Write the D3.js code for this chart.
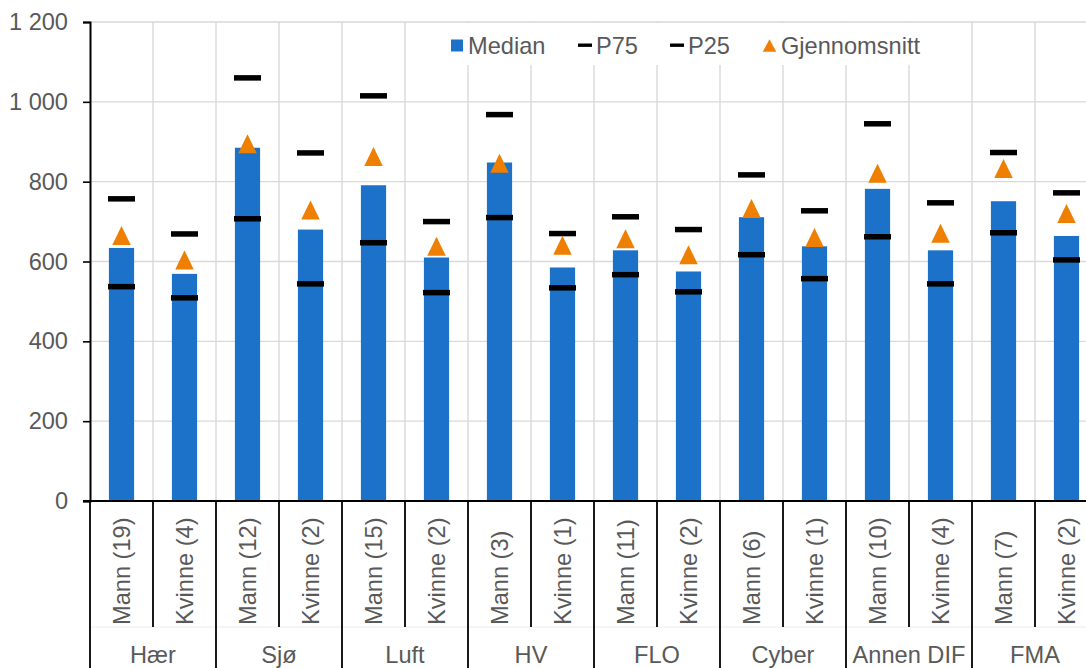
<!DOCTYPE html>
<html>
<head>
<meta charset="utf-8">
<script src="https://cdn.jsdelivr.net/npm/d3@7/dist/d3.min.js"></script>
<style>
  html, body { margin: 0; padding: 0; background: #fff; overflow: hidden; }
  svg { display: block; font-family: "Liberation Sans", Arial, sans-serif; }
</style>
</head>
<body>
<svg id="chart" width="1086" height="668"></svg>
<script>
// Branch groups and the two sub-categories shown under each
const groups = ["Hær", "Sjø", "Luft", "HV", "FLO", "Cyber", "Annen DIF", "FMA"];
const subLabels = [
  "Mann (19)", "Kvinne (4)", "Mann (12)", "Kvinne (2)", "Mann (15)", "Kvinne (2)",
  "Mann (3)", "Kvinne (1)", "Mann (11)", "Kvinne (2)", "Mann (6)", "Kvinne (1)",
  "Mann (10)", "Kvinne (4)", "Mann (7)", "Kvinne (2)"
];
const median = [634, 569, 885, 680, 791, 610, 848, 585, 628, 575, 711, 638, 782, 628, 751, 664];
const p75    = [757, 669, 1060, 872, 1015, 700, 968, 670, 712, 680, 817, 727, 945, 747, 873, 772];
const p25    = [537, 509, 707, 544, 647, 522, 710, 534, 567, 524, 617, 557, 662, 544, 672, 604];
const mean   = [665, 604, 895, 729, 863, 638, 846, 641, 657, 617, 733, 660, 821, 671, 833, 720];
const yTicks = [0, 200, 400, 600, 800, 1000, 1200];
const legendLabels = ["Median", "P75", "P25", "Gjennomsnitt"];

const BLUE = "#1b72c8", ORANGE = "#ef7f00", GRID = "#d9d9d9", TEXT = "#595959";
const FONT = 23.6;

const svg = d3.select("#chart");
const plotLeft = 90, plotRight = 1098, plotTop = 22, plotBottom = 501;
const subBottom = 627, figBottom = 668;

const idx = d3.range(subLabels.length);
const x = d3.scaleBand().domain(idx).range([plotLeft, plotRight]).paddingInner(0).paddingOuter(0);
const y = d3.scaleLinear().domain([0, 1200]).range([plotBottom, plotTop]);
const bw = x.bandwidth();
const cx = i => x(i) + bw / 2;

// Horizontal gridlines
svg.append("g").selectAll("line").data(yTicks.filter(d => d > 0)).join("line")
  .attr("x1", plotLeft).attr("x2", plotRight)
  .attr("y1", d => y(d)).attr("y2", d => y(d))
  .attr("stroke", GRID).attr("stroke-width", 1.4);

// Vertical gridlines at every band boundary
svg.append("g").selectAll("line").data(idx.slice(1)).join("line")
  .attr("x1", d => x(d)).attr("x2", d => x(d))
  .attr("y1", plotTop).attr("y2", plotBottom)
  .attr("stroke", GRID).attr("stroke-width", 1.4);

// Median bars
const barW = bw * 0.4;
svg.append("g").selectAll("rect").data(idx).join("rect")
  .attr("x", i => cx(i) - barW / 2)
  .attr("width", barW)
  .attr("y", i => y(median[i]))
  .attr("height", i => y(0) - y(median[i]))
  .attr("fill", BLUE);

// Percentile dashes
const dashW = 27, dashH = 5.5;
function dashes(values) {
  svg.append("g").selectAll("rect").data(idx).join("rect")
    .attr("x", i => cx(i) - dashW / 2)
    .attr("width", dashW)
    .attr("y", i => y(values[i]) - dashH / 2)
    .attr("height", dashH)
    .attr("fill", "#000");
}
dashes(p75);
dashes(p25);

// Mean triangles
const tri = d3.line();
function triPath(w, h) {
  return tri([[0, -h / 2], [w / 2, h / 2], [-w / 2, h / 2]]) + "Z";
}
svg.append("g").selectAll("path").data(idx).join("path")
  .attr("d", triPath(18.5, 19))
  .attr("transform", i => `translate(${cx(i)},${y(mean[i])})`)
  .attr("fill", ORANGE);

// Y axis
const yAxis = d3.axisLeft(y).tickValues(yTicks).tickSize(7).tickPadding(15)
  .tickFormat(d => d3.format(",")(d).replace(/,/g, " "));
const gy = svg.append("g").attr("transform", `translate(${plotLeft},0)`).call(yAxis);
gy.select(".domain").attr("stroke", "#000").attr("stroke-width", 2);
gy.selectAll(".tick line").attr("stroke", "#000").attr("stroke-width", 1.6);
gy.selectAll(".tick text").attr("fill", TEXT).style("font-size", FONT + "px")
  .style("font-family", "'Liberation Sans', Arial, sans-serif");

// X baseline
svg.append("line").attr("x1", plotLeft - 7).attr("x2", plotRight)
  .attr("y1", plotBottom).attr("y2", plotBottom)
  .attr("stroke", "#000").attr("stroke-width", 2);

// Faint divider between the two label levels
svg.append("line").attr("x1", plotLeft).attr("x2", plotRight)
  .attr("y1", subBottom).attr("y2", subBottom)
  .attr("stroke", "#ececec").attr("stroke-width", 1);

// Category separators: short inside groups, full height between groups
svg.append("g").selectAll("line").data(d3.range(subLabels.length + 1)).join("line")
  .attr("x1", d => plotLeft + d * bw).attr("x2", d => plotLeft + d * bw)
  .attr("y1", plotBottom)
  .attr("y2", d => d % 2 === 0 ? figBottom : subBottom)
  .attr("stroke", "#000").attr("stroke-width", 1.8);

// Rotated sub-category labels
svg.append("g").selectAll("text").data(idx).join("text")
  .attr("transform", i => `translate(${cx(i)},${625}) rotate(-90)`)
  .attr("text-anchor", "start")
  .attr("dy", "0.35em")
  .attr("fill", TEXT)
  .style("font-size", FONT + "px")
  .text(i => subLabels[i]);

// Group labels
svg.append("g").selectAll("text").data(groups).join("text")
  .attr("x", (d, g) => plotLeft + (g * 2 + 1) * bw)
  .attr("y", 663)
  .attr("text-anchor", "middle")
  .attr("fill", TEXT)
  .style("font-size", FONT + "px")
  .text(d => d);

// Legend
const lg = svg.append("g");
lg.append("rect").attr("x", 432).attr("y", 23).attr("width", 496).attr("height", 42).attr("fill", "#fff");
lg.append("rect").attr("x", 451).attr("y", 39.5).attr("width", 12).attr("height", 12).attr("fill", BLUE);
lg.append("rect").attr("x", 578).attr("y", 43.5).attr("width", 14).attr("height", 3.4).attr("fill", "#000");
lg.append("rect").attr("x", 670).attr("y", 43.5).attr("width", 14).attr("height", 3.4).attr("fill", "#000");
lg.append("path").attr("d", triPath(13.5, 12.5)).attr("transform", "translate(769.5,45.5)").attr("fill", ORANGE);
const legendX = [468, 596, 688, 781];
lg.selectAll("text").data(legendLabels).join("text")
  .attr("x", (d, i) => legendX[i])
  .attr("y", 53.5)
  .attr("fill", TEXT)
  .style("font-size", FONT + "px")
  .text(d => d);
</script>
</body>
</html>
